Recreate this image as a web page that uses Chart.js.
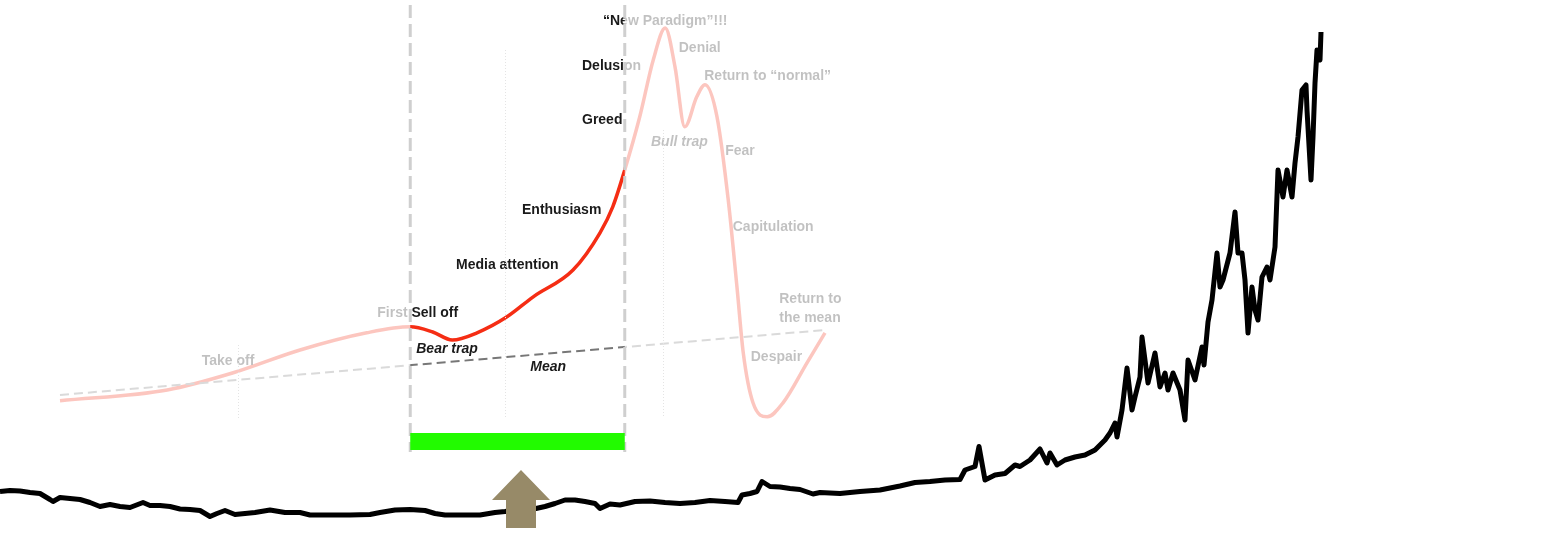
<!DOCTYPE html>
<html>
<head>
<meta charset="utf-8">
<script src="https://cdn.jsdelivr.net/npm/chart.js@4.4.0/dist/chart.umd.min.js"></script>
<style>
  html, body { margin: 0; padding: 0; background: #fff; overflow: hidden; }
  #chart { display: block; }
</style>
</head>
<body>
<canvas id="chart" width="1563" height="534"></canvas>
<script>
// stages of a bubble: time vs valuation
const cycleTime = [0, 14.3, 23.1, 32, 40.9, 46.7, 49.7, 52.3, 55.6, 59.6, 63.1, 68.4, 72, 73.7, 75.3,
  77.3, 79.1, 80.7, 82, 83.3, 84.9, 86, 87.6, 89.1, 90.3, 91.1, 92.4, 94.3, 96.4, 99.6, 102];
const cycleValue = [4.8, 7.5, 11.8, 17.5, 21.8, 23.3, 22, 20, 21.8, 25.8, 30.8, 37.5, 46.8, 53.3, 62.5,
  75.8, 90, 98, 88.3, 73.3, 80.8, 83.8, 75.8, 55, 32.5, 16.8, 4.3, 0.8, 4.3, 14.3, 21.8];
const meanTime = [0, 102];
const meanValue = [6.25, 22.5];

// stock price (week index / 10, price)
const priceWeek = [0, 1, 2, 3, 4, 5, 5.3, 6, 7, 8, 9, 10, 11, 12, 13, 14.3, 15, 16, 17, 18, 19, 20, 21, 21.7,
  22.5, 23.5, 24.5, 25.5, 27, 28.5, 30, 31, 33, 35, 37, 38, 39.5, 41, 42.5, 43.5, 44.5, 46, 48, 49.5, 50.5,
  52, 53.6, 54.5, 55.5, 56.5, 57.5, 58.5, 59.5, 60, 61, 62, 63.5, 65, 66.5, 68, 69.5, 71, 72.5, 73.8, 74.2,
  75, 75.7, 76.2, 77, 78, 79, 80, 81.3, 82, 84, 86, 88, 90, 91.5, 93, 94.5, 96, 96.5, 97.5, 97.9, 98.5, 99.5,
  100.5, 101.5, 102, 103, 104, 104.7, 105, 105.7, 106.5, 107.5, 108.5, 109.5, 110.5, 111, 111.5, 111.7,
  112.2, 112.7, 113.2, 113.5, 114, 114.2, 114.8, 115.5, 116, 116.5, 116.8, 117.3, 118, 118.5, 118.8, 119.5,
  120.2, 120.4, 120.8, 121.2, 121.7, 122, 122.3, 123, 123.5, 123.8, 124.2, 124.5, 124.8, 125.2, 125.5, 125.8,
  126.2, 126.7, 127, 127.5, 127.8, 128.3, 128.7, 129.2, 129.5, 129.8, 130.2, 130.6, 130.7, 131.1, 131.3,
  131.5, 131.7, 132, 132.1];
const priceValue = [5.7, 5.9, 5.8, 5.5, 5.3, 4.1, 3.7, 4.5, 4.3, 4.1, 3.5, 2.7, 3.1, 2.7, 2.5, 3.5, 2.9, 2.9,
  2.7, 2.2, 2.1, 1.9, 0.7, 1.3, 1.9, 1.1, 1.3, 1.5, 2.0, 1.5, 1.5, 1.0, 1.0, 1.0, 1.1, 1.5, 2.0, 2.1, 1.9, 1.3,
  1.0, 1.0, 1.0, 1.5, 1.7, 2.1, 2.3, 2.7, 3.3, 4.0, 4.0, 3.7, 3.3, 2.3, 3.2, 3.0, 3.7, 3.8, 3.5, 3.3, 3.5, 3.9,
  3.7, 3.5, 5.0, 5.3, 5.7, 7.7, 6.7, 6.6, 6.3, 6.1, 5.2, 5.5, 5.3, 5.7, 6.0, 6.8, 7.5, 7.7, 8.0, 8.1, 10.0,
  10.7, 14.7, 8.0, 9.0, 9.3, 11.0, 10.7, 12.0, 14.2, 11.4, 13.4, 11.0, 12.0, 12.6, 13.0, 14.0, 16.0, 17.4,
  19.4, 16.6, 22.0, 30.4, 22.0, 24.6, 28.6, 36.6, 27.4, 33.4, 26.6, 29.4, 26.0, 29.4, 26.0, 20.0, 32.0, 28.0,
  34.6, 31.0, 39.6, 44, 53.4, 46.6, 48, 53.4, 61.6, 53.4, 53.4, 48, 37.4, 46.6, 42, 40, 48.6, 50.6, 48, 54.6,
  70, 64.6, 70, 64.6, 71.4, 76.6, 86, 87, 82, 68, 76.6, 87.4, 94, 92, 97.6];

const windowStart = 46.7;
const windowEnd = 75.3;
const gridTimes = [23.7, 59.3, 80.4];

const stageLabels = [
  { text: '\u201cNew Paradigm\u201d!!!', t: 72.4, v: 99.75 },
  { text: 'Delusion', t: 69.6, v: 88.5 },
  { text: 'Denial', t: 82.5, v: 93 },
  { text: 'Return to \u201cnormal\u201d', t: 85.9, v: 86 },
  { text: 'Greed', t: 69.6, v: 75 },
  { text: 'Bull trap', t: 78.8, v: 69.5, italic: true },
  { text: 'Fear', t: 88.7, v: 67.25 },
  { text: 'Enthusiasm', t: 61.6, v: 52.5 },
  { text: 'Capitulation', t: 89.7, v: 48.25 },
  { text: 'Media attention', t: 52.8, v: 38.75 },
  { text: 'Return to', t: 95.9, v: 30.25 },
  { text: 'the mean', t: 95.9, v: 25.5 },
  { text: 'First Sell off', t: 42.3, v: 26.75 },
  { text: 'Bear trap', t: 47.5, v: 17.75, italic: true },
  { text: 'Take off', t: 18.9, v: 14.75 },
  { text: 'Mean', t: 62.7, v: 13.25, italic: true },
  { text: 'Despair', t: 92.1, v: 15.75 }
];

function toPoints(xs, ys) {
  return xs.map((x, i) => ({ x: x, y: ys[i] }));
}

function drawStageLabels(chart) {
  const ctx = chart.ctx;
  const x = chart.scales.x, y = chart.scales.y;
  ctx.save();
  ctx.fillStyle = '#1a1a1a';
  ctx.textBaseline = 'middle';
  stageLabels.forEach(l => {
    ctx.font = (l.italic ? 'italic ' : '') + 'bold 14px "Liberation Sans", Arial, sans-serif';
    ctx.fillText(l.text, x.getPixelForValue(l.t), y.getPixelForValue(l.v));
  });
  ctx.restore();
}

function fadeOutside(chart) {
  const ctx = chart.ctx;
  const x1 = chart.scales.x.getPixelForValue(windowStart);
  const x2 = chart.scales.x.getPixelForValue(windowEnd);
  ctx.save();
  ctx.fillStyle = 'rgba(255,255,255,0.73)';
  ctx.fillRect(0, 0, x1, 460);
  ctx.fillRect(x2, 0, chart.width - x2, 460);
  ctx.restore();
}

function drawGuides(chart) {
  const ctx = chart.ctx;
  const x = chart.scales.x;
  ctx.save();
  ctx.strokeStyle = '#e4e4e4';
  ctx.lineWidth = 1;
  ctx.setLineDash([1, 2]);
  const tops = [345, 50, 130];
  gridTimes.forEach((t, i) => {
    const px = Math.round(x.getPixelForValue(t)) + 0.5;
    ctx.beginPath();
    ctx.moveTo(px, tops[i]);
    ctx.lineTo(px, 418);
    ctx.stroke();
  });
  ctx.strokeStyle = '#cfcfcf';
  ctx.lineWidth = 3;
  ctx.setLineDash([13, 6]);
  [windowStart, windowEnd].forEach(t => {
    const px = x.getPixelForValue(t);
    ctx.beginPath();
    ctx.moveTo(px, 5);
    ctx.lineTo(px, 452);
    ctx.stroke();
  });
  ctx.restore();
}

function drawBarAndArrow(chart) {
  const ctx = chart.ctx;
  const x1 = chart.scales.x.getPixelForValue(windowStart);
  const x2 = chart.scales.x.getPixelForValue(windowEnd);
  ctx.save();
  ctx.fillStyle = '#22fb00';
  ctx.fillRect(x1, 433, x2 - x1, 17);

  const cx = chart.scales.xs.getPixelForValue(52.1);
  ctx.fillStyle = '#978a68';
  ctx.beginPath();
  ctx.moveTo(cx, 470);
  ctx.lineTo(cx + 29, 500);
  ctx.lineTo(cx + 15, 500);
  ctx.lineTo(cx + 15, 528);
  ctx.lineTo(cx - 15, 528);
  ctx.lineTo(cx - 15, 500);
  ctx.lineTo(cx - 29, 500);
  ctx.closePath();
  ctx.fill();
  ctx.restore();
}

const overlay = {
  id: 'overlay',
  beforeDatasetDraw(chart, args) {
    if (args.index !== 2) return;
    drawStageLabels(chart);
    fadeOutside(chart);
    drawGuides(chart);
  },
  afterDatasetsDraw(chart) {
    drawBarAndArrow(chart);
  }
};

new Chart(document.getElementById('chart'), {
  type: 'line',
  data: {
    datasets: [
      {
        label: 'Bubble stages',
        data: toPoints(cycleTime, cycleValue),
        xAxisID: 'x', yAxisID: 'y',
        borderColor: '#f52d14',
        borderWidth: 3.5,
        pointRadius: 0,
        cubicInterpolationMode: 'monotone',
        order: 3
      },
      {
        label: 'Mean',
        data: toPoints(meanTime, meanValue),
        xAxisID: 'x', yAxisID: 'y',
        borderColor: '#777',
        borderWidth: 2,
        borderDash: [9, 5],
        pointRadius: 0,
        order: 2
      },
      {
        label: 'Price',
        data: toPoints(priceWeek, priceValue),
        xAxisID: 'xs', yAxisID: 'ys',
        borderColor: '#000',
        borderWidth: 5,
        borderJoinStyle: 'round',
        pointRadius: 0,
        tension: 0,
        order: 0
      }
    ]
  },
  options: {
    responsive: false,
    animation: false,
    events: [],
    layout: { padding: 0 },
    plugins: { legend: { display: false }, tooltip: { enabled: false } },
    scales: {
      x: { type: 'linear', display: false, min: -8, max: 200.4 },
      y: { type: 'linear', display: false, min: -28.5, max: 105 },
      xs: { type: 'linear', display: false, min: 0, max: 156.3 },
      ys: { type: 'linear', display: false, min: -2.8, max: 104 }
    }
  },
  plugins: [overlay]
});
</script>
</body>
</html>
